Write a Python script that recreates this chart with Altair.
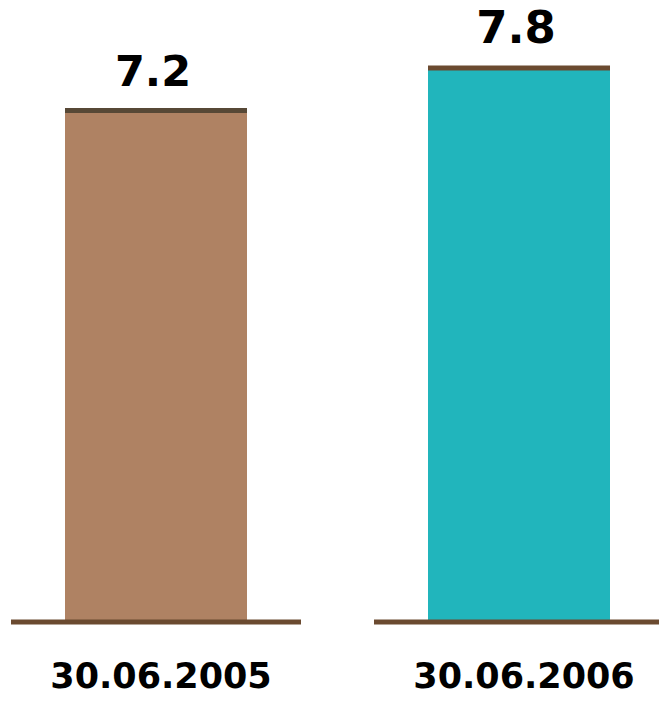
import altair as alt
import pandas as pd

dates = ["30.06.2005", "30.06.2006"]
values = [7.2, 7.8]
labels = ["7.2", "7.8"]

df = pd.DataFrame({"date": dates, "value": values, "label": labels, "zero": [0, 0]})

xscale = alt.Scale(domain=dates, range=[-25.5, 700.5], paddingInner=0, paddingOuter=0)
yscale = alt.Scale(domain=[0, 7.8], range=[622, 68], nice=False, zero=True)
x = alt.X("date:N", scale=xscale, axis=None)
y = alt.Y("value:Q", scale=yscale, axis=None)

base = alt.Chart(df)

bars = base.mark_bar(width=182, opacity=1).encode(
    x=x, y=y,
    color=alt.Color("date:N", scale=alt.Scale(domain=dates, range=["#AF8263", "#21B5BC"]), legend=None),
)

baseline = base.mark_tick(thickness=5, size=290, color="#6B4A30", opacity=1).encode(
    x=x, y=alt.Y("zero:Q", scale=yscale, axis=None)
)

toplines = base.mark_tick(thickness=5, size=182, opacity=1).encode(
    x=x, y=y,
    fill=alt.Fill("date:N", scale=alt.Scale(domain=dates, range=["#574836", "#6B4A30"]), legend=None),
)

vals = base.mark_text(font="DejaVu Sans", fontWeight="bold", baseline="alphabetic", dy=-25, dx=-3, color="black").encode(
    x=x, y=y, text="label:N",
    size=alt.Size("date:N", scale=alt.Scale(domain=dates, range=[43, 45]), legend=None),
)

cats = base.mark_text(font="DejaVu Sans", fontWeight="bold", fontSize=35, baseline="alphabetic", dx=5, color="black").encode(
    x=x, y=alt.value(688), text="date:N"
)

chart = alt.layer(bars, baseline, toplines, vals, cats).properties(
    width=659, height=701, autosize=alt.AutoSizeParams(type="none"), padding=0
).configure_view(stroke=None)

chart.save("out.html", embed_options={"renderer": "svg", "actions": False})
